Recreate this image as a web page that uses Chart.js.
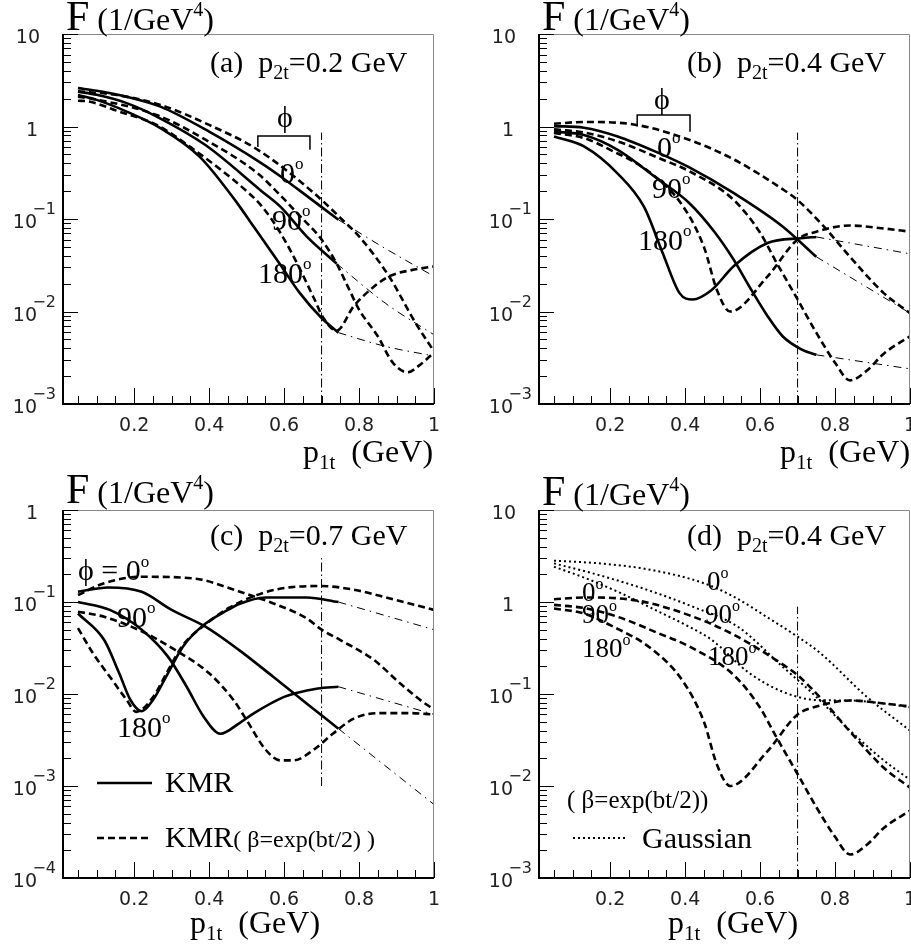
<!DOCTYPE html>
<html>
<head>
<meta charset="utf-8">
<script src="https://cdn.jsdelivr.net/npm/chart.js@4.4.1/dist/chart.umd.min.js"></script>
<style>
  body { margin: 0; background: #fff; width: 911px; height: 947px; position: relative; overflow: hidden; }
  canvas { position: absolute; }
</style>
</head>
<body>
<canvas id="pa" width="455" height="470" style="left:0;top:0"></canvas>
<canvas id="pb" width="456" height="470" style="left:455px;top:0"></canvas>
<canvas id="pc" width="455" height="477" style="left:0;top:470px"></canvas>
<canvas id="pd" width="456" height="477" style="left:455px;top:470px"></canvas>
<script>
// x = p1t (GeV), y = F (1/GeV^4)

// (a) p2t = 0.2 GeV
const aKmr0X = [0.05, 0.10, 0.18, 0.27, 0.40, 0.54, 0.59, 0.64, 0.745];
const aKmr0Y = [2.6, 2.44, 2.1, 1.64, 0.88, 0.40, 0.29, 0.205, 0.098];
const aKmr90X = [0.05, 0.10, 0.18, 0.26, 0.39, 0.54, 0.59, 0.66, 0.74];
const aKmr90Y = [2.38, 2.2, 1.79, 1.28, 0.63, 0.20, 0.136, 0.065, 0.033];
const aKmr180X = [0.05, 0.10, 0.18, 0.27, 0.375, 0.47, 0.51, 0.59, 0.64, 0.70, 0.745];
const aKmr180Y = [2.19, 1.94, 1.45, 0.96, 0.47, 0.158, 0.093, 0.032, 0.0162, 0.0085, 0.0059];
const aExt0X = [0.745, 0.87, 1.0], aExt0Y = [0.098, 0.048, 0.024];
const aExt90X = [0.74, 0.87, 1.0], aExt90Y = [0.033, 0.0123, 0.0056];
const aExt180X = [0.745, 0.87, 1.0], aExt180Y = [0.0059, 0.0042, 0.0033];
const aBeta0X = [0.05, 0.15, 0.27, 0.40, 0.53, 0.68, 0.76, 0.80, 0.88, 0.95, 1.0];
const aBeta0Y = [2.4, 2.2, 1.71, 1.04, 0.56, 0.19, 0.094, 0.065, 0.024, 0.0076, 0.0037];
const aBeta90X = [0.05, 0.08, 0.26, 0.39, 0.53, 0.59, 0.64, 0.70, 0.74, 0.77, 0.80, 0.85, 0.89, 0.93, 0.96, 1.0];
const aBeta90Y = [2.1, 2.02, 1.33, 0.72, 0.31, 0.18, 0.11, 0.060, 0.033, 0.0186, 0.0105, 0.0054, 0.0028, 0.0022, 0.0026, 0.0036];
const aBeta180X = [0.05, 0.08, 0.16, 0.26, 0.36, 0.50, 0.54, 0.59, 0.64, 0.68, 0.705, 0.74, 0.785, 0.83, 0.88, 0.94, 1.0];
const aBeta180Y = [1.9, 1.86, 1.45, 1.04, 0.56, 0.20, 0.138, 0.071, 0.030, 0.0138, 0.0085, 0.0062, 0.0113, 0.0172, 0.024, 0.028, 0.0307];
const aVertX = [0.7, 0.7], aVertY = [0.001, 0.86];
const aBraceX = [0.53, 0.53, 0.669, 0.669], aBraceY = [0.60, 0.79, 0.79, 0.56];

// (b) p2t = 0.4 GeV
const bKmr0X = [0.05, 0.13, 0.22, 0.33, 0.41, 0.53, 0.66, 0.75];
const bKmr0Y = [1.01, 0.97, 0.78, 0.515, 0.363, 0.19, 0.083, 0.039];
const bKmr90X = [0.05, 0.13, 0.22, 0.33, 0.41, 0.48, 0.53, 0.57, 0.62, 0.66, 0.71, 0.75];
const bKmr90Y = [0.88, 0.81, 0.56, 0.265, 0.15, 0.071, 0.036, 0.019, 0.0089, 0.0054, 0.0039, 0.0034];
const bKmr180X = [0.05, 0.13, 0.22, 0.29, 0.34, 0.385, 0.42, 0.47, 0.53, 0.62, 0.71, 0.75];
const bKmr180Y = [0.78, 0.61, 0.31, 0.136, 0.043, 0.0158, 0.0135, 0.017, 0.031, 0.055, 0.062, 0.064];
const bExt0X = [0.75, 1.0], bExt0Y = [0.039, 0.0096];
const bExt90X = [0.75, 1.0], bExt90Y = [0.0034, 0.0024];
const bExt180X = [0.75, 1.0], bExt180Y = [0.064, 0.042];
const bBeta0X = [0.05, 0.13, 0.27, 0.41, 0.53, 0.66, 0.70, 0.77, 0.84, 0.93, 1.0];
const bBeta0Y = [1.07, 1.12, 1.04, 0.72, 0.44, 0.21, 0.16, 0.083, 0.039, 0.0158, 0.0096];
const bBeta90X = [0.05, 0.13, 0.22, 0.33, 0.41, 0.53, 0.60, 0.64, 0.70, 0.75, 0.80, 0.84, 0.885, 0.93, 1.0];
const bBeta90Y = [0.93, 0.86, 0.69, 0.455, 0.33, 0.16, 0.071, 0.036, 0.0135, 0.0059, 0.0028, 0.0018, 0.0023, 0.0035, 0.0054];
const bBeta180X = [0.05, 0.13, 0.20, 0.31, 0.395, 0.45, 0.485, 0.52, 0.62, 0.70, 0.75, 0.84, 0.93, 1.0];
const bBeta180Y = [0.85, 0.75, 0.56, 0.31, 0.136, 0.050, 0.017, 0.010, 0.024, 0.06, 0.073, 0.085, 0.079, 0.073];
const bVertX = [0.7, 0.7], bVertY = [0.001, 0.86];
const bBraceX = [0.272, 0.272, 0.413, 0.413], bBraceY = [1.0, 1.33, 1.33, 0.88];

// (c) p2t = 0.7 GeV
const cKmr0X = [0.05, 0.13, 0.22, 0.30, 0.39, 0.48, 0.57, 0.66, 0.745];
const cKmr0Y = [0.129, 0.144, 0.129, 0.082, 0.054, 0.030, 0.0155, 0.0079, 0.0042];
const cKmr90X = [0.05, 0.135, 0.22, 0.29, 0.34, 0.385, 0.43, 0.48, 0.52, 0.60, 0.63, 0.69, 0.745];
const cKmr90Y = [0.10, 0.082, 0.050, 0.0255, 0.012, 0.0057, 0.0037, 0.0048, 0.0062, 0.0093, 0.0102, 0.0115, 0.012];
const cKmr180X = [0.05, 0.12, 0.16, 0.19, 0.22, 0.25, 0.29, 0.33, 0.38, 0.45, 0.48, 0.55, 0.66, 0.745];
const cKmr180Y = [0.075, 0.0386, 0.0168, 0.0086, 0.0065, 0.0086, 0.0168, 0.0327, 0.054, 0.082, 0.095, 0.112, 0.112, 0.10];
const cExt0X = [0.745, 1.0], cExt0Y = [0.0042, 0.00063];
const cExt90X = [0.745, 1.0], cExt90Y = [0.012, 0.006];
const cExt180X = [0.745, 1.0], cExt180Y = [0.10, 0.050];
const cBeta0X = [0.05, 0.12, 0.22, 0.36, 0.48, 0.57, 0.66, 0.70, 0.75, 0.84, 0.91, 0.97, 1.0];
const cBeta0Y = [0.119, 0.16, 0.188, 0.18, 0.13, 0.097, 0.0665, 0.05, 0.0386, 0.0234, 0.013, 0.0082, 0.0068];
const cBeta90X = [0.05, 0.12, 0.22, 0.31, 0.40, 0.465, 0.50, 0.55, 0.59, 0.625, 0.68, 0.73, 0.79, 0.86, 0.93, 1.0];
const cBeta90Y = [0.0785, 0.069, 0.048, 0.030, 0.0168, 0.0086, 0.0052, 0.0025, 0.0019, 0.0019, 0.0025, 0.0037, 0.0055, 0.0062, 0.0062, 0.0060];
const cBeta180X = [0.05, 0.09, 0.135, 0.18, 0.205, 0.25, 0.29, 0.33, 0.39, 0.45, 0.54, 0.62, 0.70, 0.79, 0.88, 1.0];
const cBeta180Y = [0.052, 0.0277, 0.0154, 0.0086, 0.0064, 0.0092, 0.018, 0.034, 0.057, 0.085, 0.124, 0.145, 0.149, 0.135, 0.11, 0.082];
const cVertX = [0.7, 0.7], cVertY = [0.001, 0.3];

// (d) p2t = 0.4 GeV, Gaussian vs KMR(beta) (dashed = same curves as in b)
const dGauss0X = [0.05, 0.17, 0.31, 0.45, 0.53, 0.63, 0.70, 0.76, 0.885, 1.0];
const dGauss0Y = [2.81, 2.63, 2.23, 1.60, 1.14, 0.64, 0.42, 0.28, 0.093, 0.04];
const dGauss90X = [0.05, 0.17, 0.30, 0.42, 0.54, 0.66, 0.75, 0.84, 0.93, 1.0];
const dGauss90Y = [2.63, 1.96, 1.35, 0.89, 0.54, 0.198, 0.093, 0.040, 0.019, 0.0117];
const dGauss180X = [0.05, 0.135, 0.23, 0.32, 0.41, 0.47, 0.57, 0.66, 0.75, 0.84, 0.93, 1.0];
const dGauss180Y = [2.42, 1.81, 1.24, 0.82, 0.54, 0.39, 0.17, 0.106, 0.086, 0.085, 0.079, 0.072];
const dVertX = [0.7, 0.7], dVertY = [0.001, 0.89];

const SERIF = '"Liberation Serif", "Times New Roman", serif';
const SANS = '"DejaVu Sans", sans-serif';

const STYLES = {
  solid:   { w: 2.6, dash: [] },
  dash:    { w: 2.6, dash: [7, 4] },
  dot:     { w: 2, dash: [2, 3] },
  dashdot: { w: 1, dash: [8, 5, 1.5, 5] },
  vline:   { w: 1, dash: [9, 3, 1.5, 3] },
  brace:   { w: 1.5, dash: [] }
};

function line(xs, ys, kind) {
  const s = STYLES[kind];
  const straight = kind === 'vline' || kind === 'brace';
  return {
    data: xs.map((x, i) => ({ x: x, y: ys[i] })),
    borderColor: '#000',
    borderWidth: s.w,
    borderDash: s.dash,
    borderCapStyle: 'butt',
    pointRadius: 0,
    fill: false,
    tension: straight ? 0 : 0.4,
    cubicInterpolationMode: straight ? 'default' : 'monotone'
  };
}

// text with sub/superscript pieces: [text, size, dy]
function rich(ctx, x, y, parts) {
  ctx.textAlign = 'left';
  for (const [t, size, dy] of parts) {
    ctx.font = size + 'px ' + SERIF;
    ctx.fillText(t, x, y + (dy || 0));
    x += ctx.measureText(t).width;
  }
  return x;
}

function deg(ctx, x, y, num, size) {
  rich(ctx, x, y, [[num, size, 0], ['o', Math.round(size * 0.58), -Math.round(size * 0.45)]]);
}

function sample(ctx, x0, x1, y, w, dash) {
  ctx.save();
  ctx.lineWidth = w;
  ctx.setLineDash(dash);
  ctx.beginPath();
  ctx.moveTo(x0, y);
  ctx.lineTo(x1, y);
  ctx.stroke();
  ctx.restore();
}

function framePlugin(p) {
  return {
    id: 'frame',
    afterDraw(chart) {
      const ctx = chart.ctx, a = chart.chartArea;
      const xs = chart.scales.x, ys = chart.scales.y;
      ctx.save();
      ctx.strokeStyle = '#888';
      ctx.lineWidth = 1;
      ctx.beginPath();
      ctx.moveTo(a.left, a.top + 0.5);
      ctx.lineTo(a.right - 0.5, a.top + 0.5);
      ctx.lineTo(a.right - 0.5, a.bottom);
      ctx.stroke();
      ctx.strokeStyle = '#000';
      ctx.lineWidth = 2;
      ctx.beginPath();
      ctx.moveTo(a.left, a.top);
      ctx.lineTo(a.left, a.bottom);
      ctx.lineTo(a.right, a.bottom);
      ctx.stroke();

      // y ticks (inside) and labels
      ctx.lineWidth = 1;
      ctx.fillStyle = '#222';
      const e0 = Math.round(Math.log10(p.ymin)), e1 = Math.round(Math.log10(p.ymax));
      for (let e = e0; e <= e1; e++) {
        for (let k = 1; k <= 9; k++) {
          const v = k * Math.pow(10, e);
          if (v > p.ymax * 1.0001) break;
          const py = Math.round(ys.getPixelForValue(v)) + 0.5;
          ctx.beginPath();
          ctx.moveTo(a.left, py);
          ctx.lineTo(a.left + (k === 1 ? 15 : 8), py);
          ctx.stroke();
        }
        const py = ys.getPixelForValue(Math.pow(10, e));
        ctx.textAlign = 'right';
        ctx.font = '19px ' + SANS;
        if (e === 1) ctx.fillText('10', a.left - 23, py + 9);
        else if (e === 0) ctx.fillText('1', a.left - 25, py + 9);
        else {
          ctx.fillText('10', a.left - 26, py + 9);
          ctx.font = '16px ' + SANS;
          ctx.fillText('\u2212' + (-e), a.left - 7, py - 5);
        }
      }

      // x ticks (inside) and labels
      for (let i = 1; i <= 20; i++) {
        const px = Math.round(xs.getPixelForValue(i * 0.05)) + 0.5;
        const major = i % 4 === 0;
        ctx.beginPath();
        ctx.moveTo(px, a.bottom);
        ctx.lineTo(px, a.bottom - (major ? 16 : 8));
        ctx.stroke();
        if (major) {
          ctx.textAlign = 'center';
          ctx.font = '19px ' + SANS;
          ctx.fillText(i === 20 ? '1' : (i * 0.05).toFixed(1), xs.getPixelForValue(i * 0.05), a.bottom + 27);
        }
      }

      ctx.fillStyle = '#000';
      ctx.strokeStyle = '#000';
      // axis titles
      rich(ctx, a.left + 3, a.top - p.titleDy, [['F', 42], [' (1/GeV', 32], ['4', 20, -14], [')', 32]]);
      rich(ctx, p.xTitleX(a), a.bottom + p.xTitleDy, [['p', 32], ['1t', 21, 7], ['  (GeV)', 32]]);
      p.texts(ctx, a);
      ctx.restore();
    }
  };
}

function panel(id, p) {
  return new Chart(document.getElementById(id), {
    type: 'line',
    data: { datasets: p.datasets },
    options: {
      responsive: false,
      animation: false,
      devicePixelRatio: 1,
      layout: { padding: p.pad },
      plugins: { legend: { display: false }, tooltip: { enabled: false } },
      scales: {
        x: { type: 'linear', min: 0.01, max: 1, bounds: 'data', display: false },
        y: { type: 'logarithmic', min: p.ymin, max: p.ymax, bounds: 'data', display: false }
      }
    },
    plugins: [framePlugin(p)]
  });
}

const PHI = '\u03D5';

panel('pa', {
  pad: { left: 63, top: 34, right: 21, bottom: 66 }, ymin: 1e-3, ymax: 10, titleDy: 4,
  xTitleX: a => a.right - 131, xTitleDy: 58,
  datasets: [
    line(aKmr0X, aKmr0Y, 'solid'), line(aKmr90X, aKmr90Y, 'solid'), line(aKmr180X, aKmr180Y, 'solid'),
    line(aExt0X, aExt0Y, 'dashdot'), line(aExt90X, aExt90Y, 'dashdot'), line(aExt180X, aExt180Y, 'dashdot'),
    line(aBeta0X, aBeta0Y, 'dash'), line(aBeta90X, aBeta90Y, 'dash'), line(aBeta180X, aBeta180Y, 'dash'),
    line(aVertX, aVertY, 'vline'), line(aBraceX, aBraceY, 'brace')
  ],
  texts(ctx, a) {
    rich(ctx, a.left + 147, a.top + 38, [['(a)', 30], ['  p', 30], ['2t', 20, 7], ['=0.2 GeV', 30]]);
    ctx.textAlign = 'center';
    ctx.font = '30px ' + SERIF;
    ctx.fillText(PHI, a.left + 222, a.top + 93);
    deg(ctx, a.left + 217, a.top + 149, '0', 30);
    deg(ctx, a.left + 209, a.top + 196, '90', 30);
    deg(ctx, a.left + 195, a.top + 249, '180', 30);
  }
});

panel('pb', {
  pad: { left: 84, top: 34, right: 1, bottom: 66 }, ymin: 1e-3, ymax: 10, titleDy: 4,
  xTitleX: a => a.right - 130, xTitleDy: 58,
  datasets: [
    line(bKmr0X, bKmr0Y, 'solid'), line(bKmr90X, bKmr90Y, 'solid'), line(bKmr180X, bKmr180Y, 'solid'),
    line(bExt0X, bExt0Y, 'dashdot'), line(bExt90X, bExt90Y, 'dashdot'), line(bExt180X, bExt180Y, 'dashdot'),
    line(bBeta0X, bBeta0Y, 'dash'), line(bBeta90X, bBeta90Y, 'dash'), line(bBeta180X, bBeta180Y, 'dash'),
    line(bVertX, bVertY, 'vline'), line(bBraceX, bBraceY, 'brace')
  ],
  texts(ctx, a) {
    rich(ctx, a.left + 148, a.top + 38, [['(b)', 30], ['  p', 30], ['2t', 20, 7], ['=0.4 GeV', 30]]);
    ctx.textAlign = 'center';
    ctx.font = '30px ' + SERIF;
    ctx.fillText(PHI, a.left + 123, a.top + 75);
    deg(ctx, a.left + 118, a.top + 123, '0', 30);
    deg(ctx, a.left + 113, a.top + 164, '90', 30);
    deg(ctx, a.left + 99, a.top + 216, '180', 30);
  }
});

panel('pc', {
  pad: { left: 63, top: 40, right: 21, bottom: 69 }, ymin: 1e-4, ymax: 1, titleDy: 7,
  xTitleX: a => a.left + 127, xTitleDy: 55,
  datasets: [
    line(cKmr0X, cKmr0Y, 'solid'), line(cKmr90X, cKmr90Y, 'solid'), line(cKmr180X, cKmr180Y, 'solid'),
    line(cExt0X, cExt0Y, 'dashdot'), line(cExt90X, cExt90Y, 'dashdot'), line(cExt180X, cExt180Y, 'dashdot'),
    line(cBeta0X, cBeta0Y, 'dash'), line(cBeta90X, cBeta90Y, 'dash'), line(cBeta180X, cBeta180Y, 'dash'),
    line(cVertX, cVertY, 'vline')
  ],
  texts(ctx, a) {
    rich(ctx, a.left + 147, a.top + 35, [['(c)', 30], ['  p', 30], ['2t', 20, 7], ['=0.7 GeV', 30]]);
    rich(ctx, a.left + 15, a.top + 70, [[PHI + ' = 0', 30], ['o', 17, -13]]);
    deg(ctx, a.left + 54, a.top + 117, '90', 30);
    deg(ctx, a.left + 54, a.top + 227, '180', 30);
    sample(ctx, a.left + 34, a.left + 89, a.top + 273, 2.6, []);
    rich(ctx, a.left + 102, a.top + 282, [['KMR', 30]]);
    sample(ctx, a.left + 34, a.left + 89, a.top + 328, 2.6, [7, 4]);
    rich(ctx, a.left + 102, a.top + 337, [['KMR', 30], ['( \u03B2=exp(bt/2) )', 24]]);
  }
});

panel('pd', {
  pad: { left: 84, top: 40, right: 1, bottom: 69 }, ymin: 1e-3, ymax: 10, titleDy: 5,
  xTitleX: a => a.left + 129, xTitleDy: 55,
  datasets: [
    line(dGauss0X, dGauss0Y, 'dot'), line(dGauss90X, dGauss90Y, 'dot'), line(dGauss180X, dGauss180Y, 'dot'),
    line(bBeta0X, bBeta0Y, 'dash'), line(bBeta90X, bBeta90Y, 'dash'), line(bBeta180X, bBeta180Y, 'dash'),
    line(dVertX, dVertY, 'vline')
  ],
  texts(ctx, a) {
    rich(ctx, a.left + 148, a.top + 35, [['(d)', 30], ['  p', 30], ['2t', 20, 7], ['=0.4 GeV', 30]]);
    deg(ctx, a.left + 168, a.top + 80, '0', 27);
    deg(ctx, a.left + 166, a.top + 113, '90', 27);
    deg(ctx, a.left + 169, a.top + 155, '180', 27);
    deg(ctx, a.left + 43, a.top + 91, '0', 27);
    deg(ctx, a.left + 43, a.top + 113, '90', 27);
    deg(ctx, a.left + 43, a.top + 147, '180', 27);
    rich(ctx, a.left + 28, a.top + 298, [['( \u03B2=exp(bt/2))', 25]]);
    sample(ctx, a.left + 34, a.left + 88, a.top + 328, 2, [2, 3]);
    rich(ctx, a.left + 103, a.top + 338, [['Gaussian', 30]]);
  }
});
</script>
</body>
</html>
